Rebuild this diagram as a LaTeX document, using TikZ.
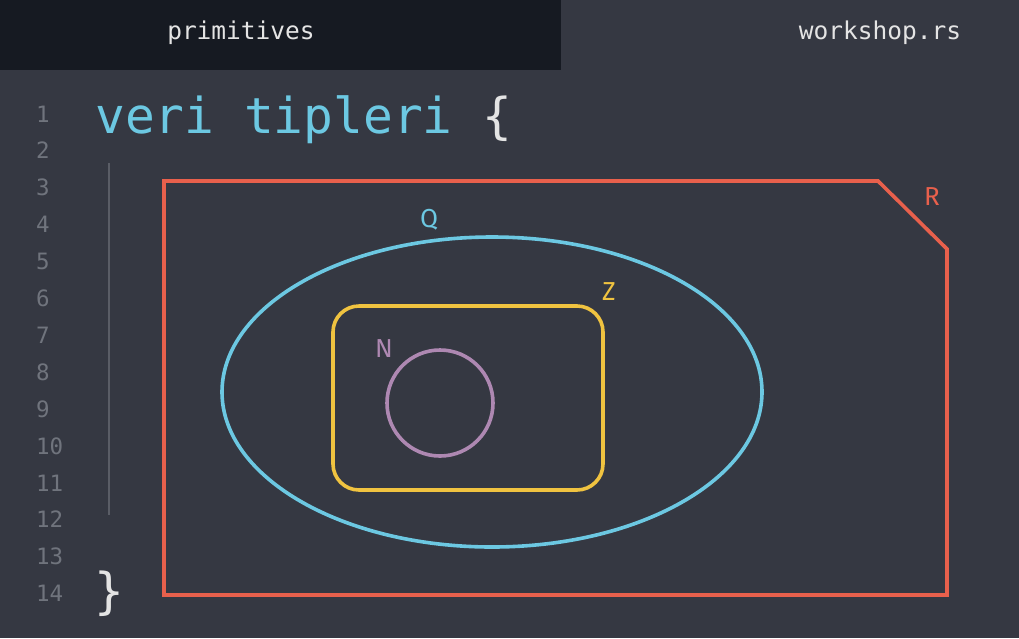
\documentclass[tikz,border=0pt]{standalone}
\usepackage{fontspec}
\setmainfont{Fira Sans}
\newfontfamily\codefont{DejaVu Sans Mono}
\newfontfamily\labfont{Fira Sans}
\definecolor{bgc}{HTML}{353842}
\definecolor{tabc}{HTML}{161A22}
\definecolor{txtc}{HTML}{E4E4E4}
\definecolor{numc}{HTML}{70747D}
\definecolor{bluec}{HTML}{6CC8E2}
\definecolor{redc}{HTML}{E8604C}
\definecolor{yelc}{HTML}{F0C340}
\definecolor{purc}{HTML}{AE88B2}
\definecolor{guidec}{HTML}{5A5D66}
\begin{document}
\begin{tikzpicture}[x=1pt,y=-1pt,
  tabtext/.style={text=txtc,font=\codefont\fontsize{24.5}{28}\selectfont,anchor=base,inner sep=0pt},
  linenum/.style={text=numc,font=\codefont\fontsize{22.5}{26}\selectfont,anchor=base west,inner sep=0pt},
  code/.style={font=\codefont\fontsize{49.5}{56}\selectfont,inner sep=0pt},
  setlabel/.style={font=\labfont\fontsize{26}{30}\selectfont,inner sep=0pt},
  setline/.style={line width=3.6pt}]
\useasboundingbox (0,0) rectangle (1019,638);
\fill[bgc] (0,0) rectangle (1019,638);
\fill[tabc] (0,0) rectangle (561,70);
\node[tabtext] (tab1) at (241,39) {primitives};
\node[tabtext] (tab2) at (880,39) {workshop.rs};
% line numbers
\foreach \i in {1,...,14} {
  \node[linenum] (ln\i) at (36,{122+(\i-1)*36.9}) {\i};
}
% code
\node[code,text=bluec,anchor=base west] (title) at (95,133) {veri tipleri \textcolor{txtc}{\{}};
\node[code,text=txtc,anchor=base] (close) at (109,608) {\}};
\draw[guidec,line width=1.2pt] (109,163) coordinate (g1) -- (109,515) coordinate (g2);
% R
\draw[redc,setline,line join=miter] (164,181) -- (878,181) -- (947,249) -- (947,595) -- (164,595) -- cycle;
\node[setlabel,text=redc] (rl) at (932,197) {R};
% Q
\draw[bluec,setline] (492,392) ellipse [x radius=270,y radius=155];
\node[setlabel,text=bluec] (ql) at (429,220) {Q};
% Z
\draw[yelc,setline,rounded corners=26pt] (333,306) rectangle (603,490);
\node[setlabel,text=yelc] (zl) at (609,292) {Z};
% N
\draw[purc,setline] (440,403) circle [radius=53];
\node[setlabel,text=purc] (nl) at (384,349) {N};
\end{tikzpicture}
\end{document}
